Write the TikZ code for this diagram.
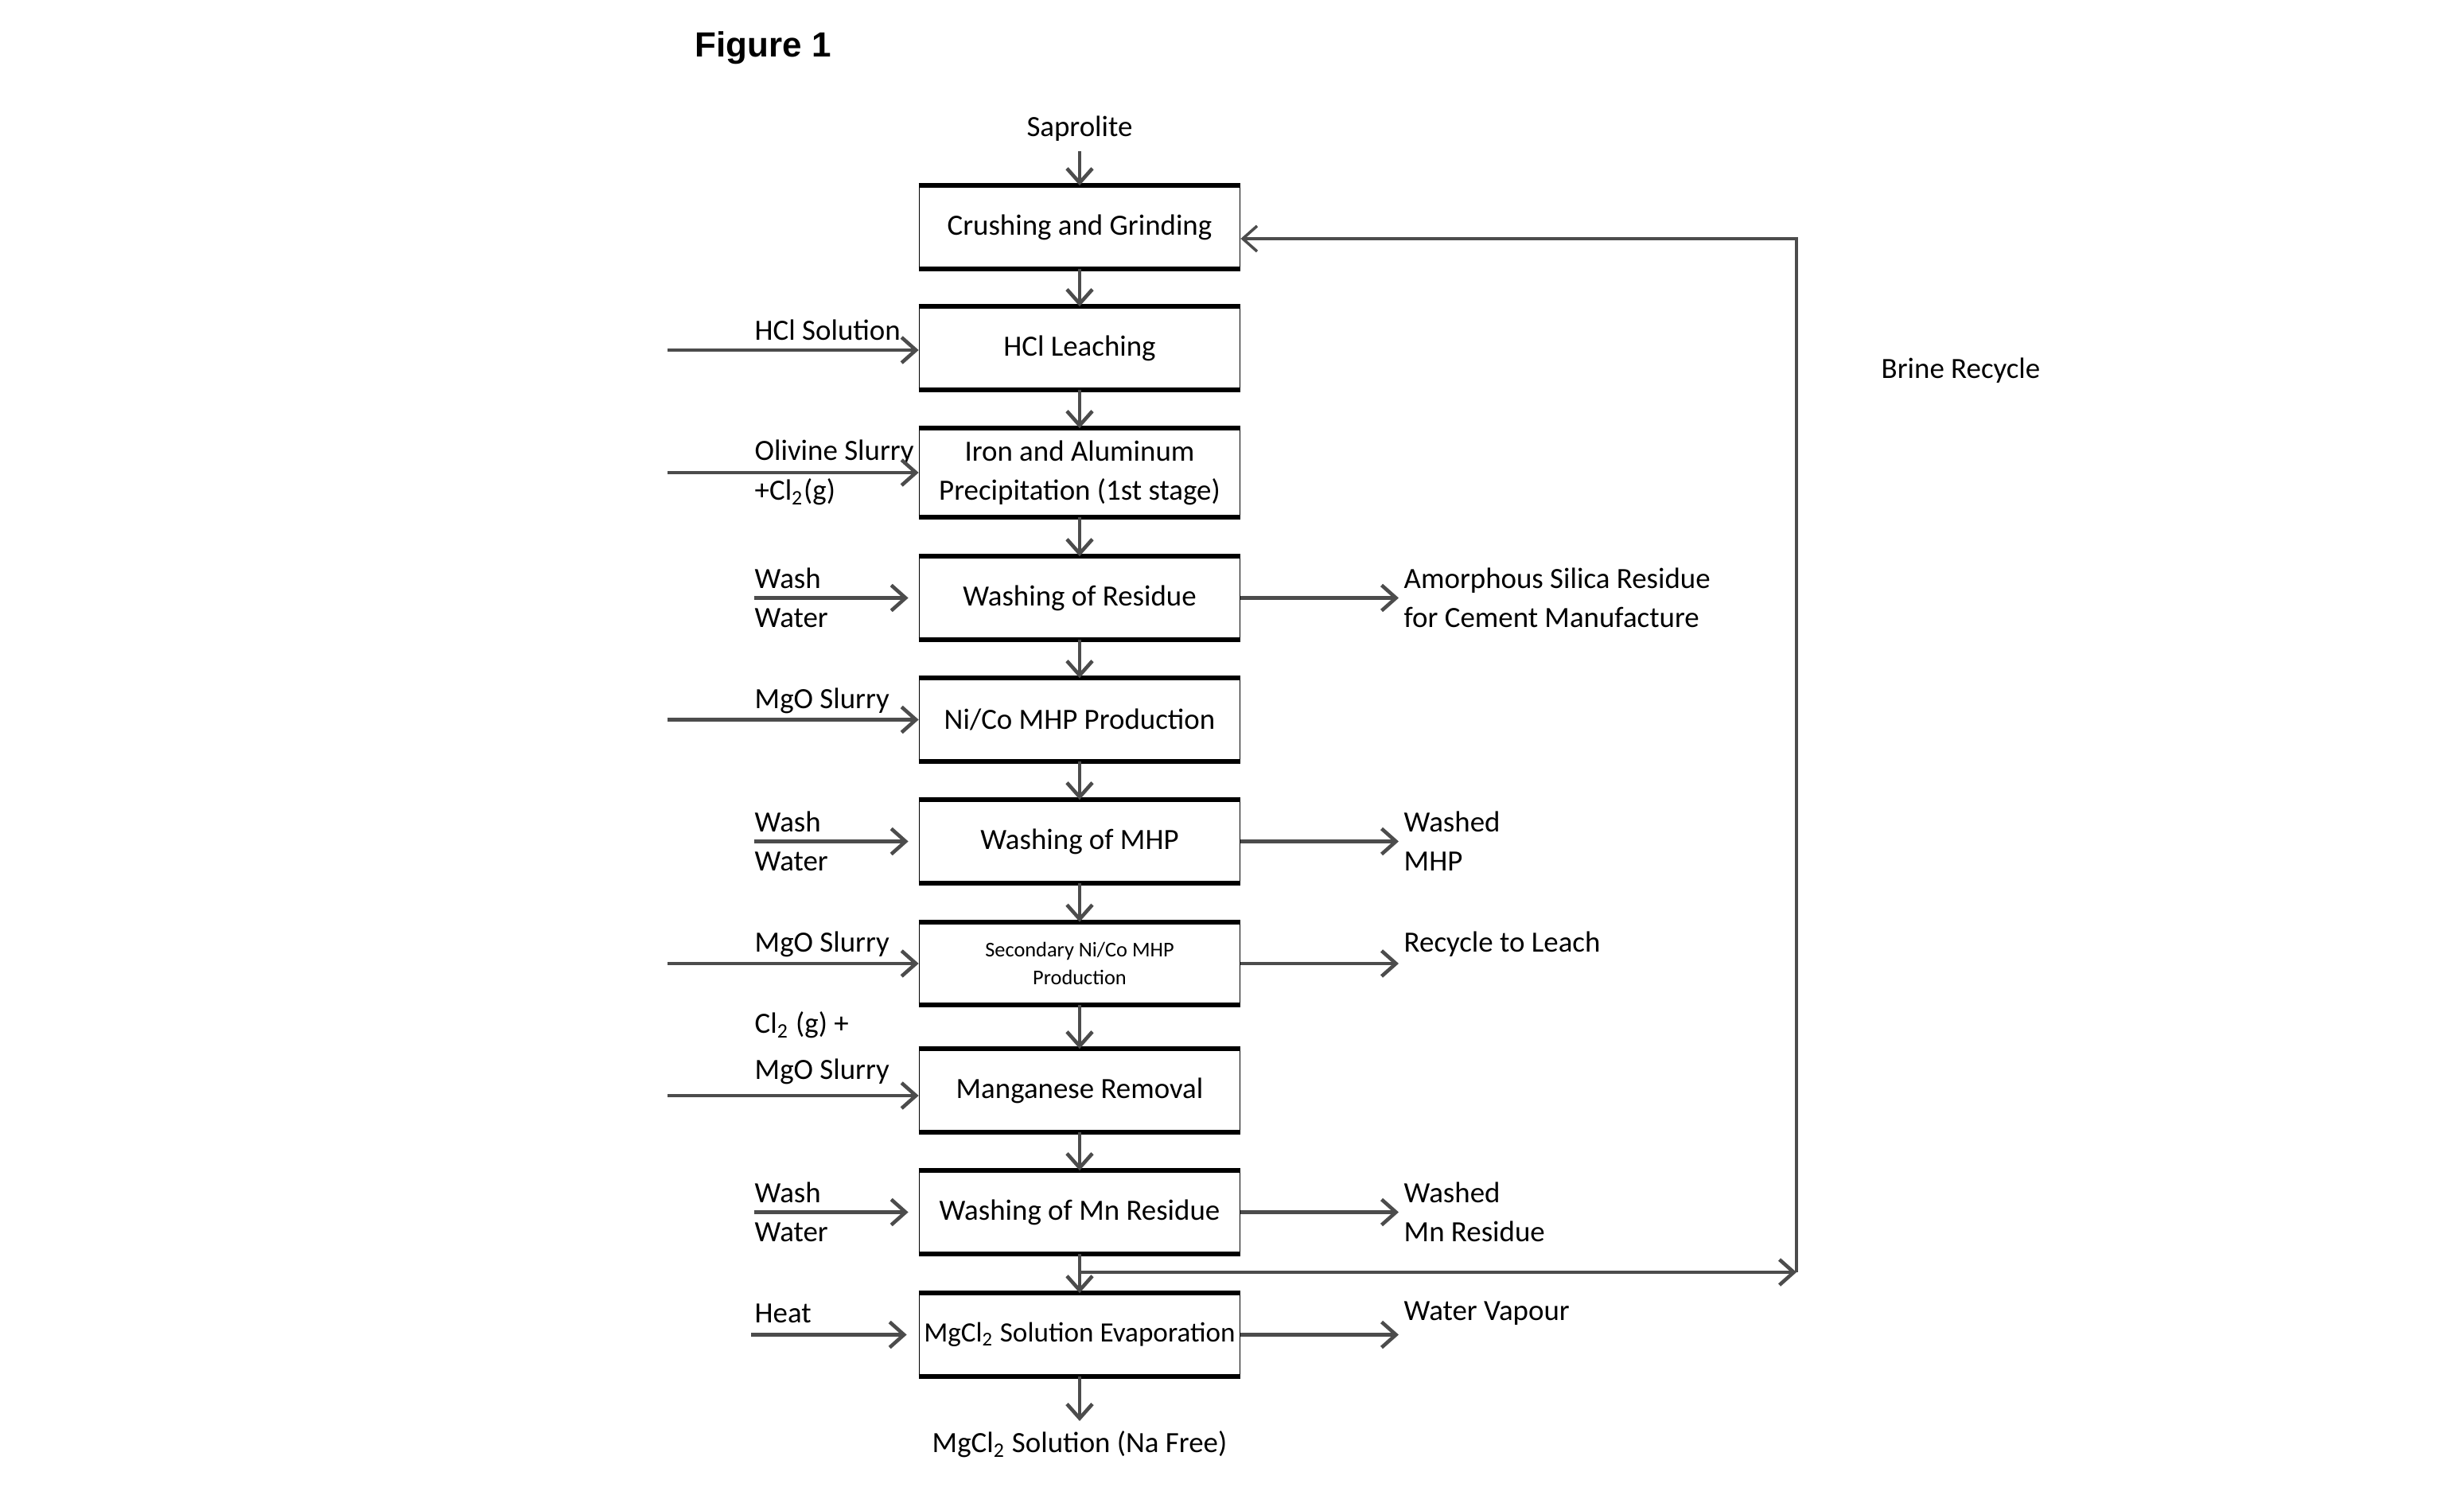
\documentclass[tikz,border=0pt]{standalone}
\usepackage{fontspec}
\setmainfont{Carlito}
\newfontfamily\headfont{Liberation Sans}
\usetikzlibrary{arrows.meta}

\begin{document}
\begin{tikzpicture}[font=\fontsize{10.5}{14}\selectfont]
\tikzset{proc/.style={draw, line width=0.5pt, minimum width=4.03cm, minimum height=1.03cm,
    align=center, inner xsep=1pt,
    append after command={(\tikzlastnode.north west) edge[line width=1.7pt] (\tikzlastnode.north east)
      (\tikzlastnode.south west) edge[line width=1.7pt] (\tikzlastnode.south east)}},
  flow/.style={draw=black!70, line width=1.3pt, -{Straight Barb[length=1.8mm,width=3.2mm]}},
  lbl/.style={anchor=west, align=left, inner sep=0pt}}

\useasboundingbox (0,0) rectangle (30.97,-18.89);

\node[anchor=base west, inner sep=0pt, font=\headfont\bfseries\fontsize{12.5}{15}\selectfont] (fig) at (8.73,-0.72) {Figure 1};

% process column
\node[proc] (crush) at (13.57,-2.855) {Crushing and Grinding};
\node[proc] (leach) at (13.57,-4.375) {HCl Leaching};
\node[proc, minimum height=1.10cm] (feal) at (13.57,-5.94) {Iron and Aluminum\\Precipitation (1st stage)};
\node[proc] (wres) at (13.57,-7.515) {Washing of Residue};
\node[proc] (nico) at (13.57,-9.045) {Ni/Co MHP Production};
\node[proc] (wshmhp) at (13.57,-10.575) {Washing of MHP};
\node[proc, font=\fontsize{7.5}{10}\selectfont] (sec) at (13.57,-12.11) {Secondary Ni/Co MHP\\Production};
\node[proc] (mnrem) at (13.57,-13.705) {Manganese Removal};
\node[proc] (wshmn) at (13.57,-15.235) {Washing of Mn Residue};
\node[proc, inner xsep=0pt, font=\fontsize{10}{14}\selectfont] (evap) at (13.57,-16.775) {MgCl\textsubscript{2} Solution Evaporation};

\foreach \a/\b in {crush/leach, leach/feal, feal/wres, wres/nico, nico/wshmhp,
    wshmhp/sec, sec/mnrem, mnrem/wshmn, wshmn/evap}
  \draw[flow] (\a) -- (\b);

% feed and product
\node (sap) at (13.57,-1.62) {Saprolite};
\draw[flow] (sap) -- (crush);
\node[anchor=north] (naf) at (13.57,-17.86) {MgCl\textsubscript{2} Solution (Na Free)};
\draw[flow] (evap) -- (naf);

% inputs on the left
\node[lbl] (hcl) at (9.48,-4.15) {HCl Solution};
\coordinate (hclin) at (8.39,-4.40);
\draw[flow] (hclin) -- (hclin -| leach.west);

\node[lbl] (oliv) at (9.48,-5.69) {Olivine Slurry};
\node[lbl] (clg) at (9.48,-6.18) {+Cl\textsubscript{2}(g)};
\coordinate (olivin) at (8.39,-5.94);
\draw[flow] (olivin) -- (olivin -| feal.west);

\node[lbl] (ww1) at (9.48,-7.515) {Wash\\Water};
\draw[flow] (ww1.west) -- ([xshift=-1.3mm]wres.west);

\node[lbl] (mgo1) at (9.48,-8.81) {MgO Slurry};
\coordinate (mgoin1) at (8.39,-9.045);
\draw[flow] (mgoin1) -- (mgoin1 -| nico.west);

\node[lbl] (ww2) at (9.48,-10.575) {Wash\\Water};
\draw[flow] (ww2.west) -- ([xshift=-1.3mm]wshmhp.west);

\node[lbl] (mgo2) at (9.48,-11.87) {MgO Slurry};
\coordinate (mgoin2) at (8.39,-12.11);
\draw[flow] (mgoin2) -- (mgoin2 -| sec.west);

\node[lbl] (cl2) at (9.48,-12.88) {Cl\textsubscript{2} (g) +};
\node[lbl] (mgo3) at (9.48,-13.47) {MgO Slurry};
\coordinate (mgoin3) at (8.39,-13.77);
\draw[flow] (mgoin3) -- (mgoin3 -| mnrem.west);

\node[lbl] (ww3) at (9.48,-15.235) {Wash\\Water};
\draw[flow] (ww3.west) -- ([xshift=-1.3mm]wshmn.west);

\node[lbl] (heat) at (9.48,-16.51) {Heat};
\coordinate (heatin) at (9.44,-16.775);
\draw[flow] (heatin) -- ([xshift=-1.5mm]evap.west);

% outputs on the right
\node[lbl] (silica) at (17.64,-7.515) {Amorphous Silica Residue\\for Cement Manufacture};
\draw[flow] (wres.east) -- ([xshift=-0.6mm]silica.west);

\node[lbl] (wmhp) at (17.64,-10.575) {Washed\\MHP};
\draw[flow] (wshmhp.east) -- ([xshift=-0.6mm]wmhp.west);

\node[lbl] (rcl) at (17.64,-11.87) {Recycle to Leach};
\coordinate (rclout) at (17.58,-12.11);
\draw[flow] (sec.east) -- (rclout);

\node[lbl] (wmn) at (17.64,-15.235) {Washed\\Mn Residue};
\draw[flow] (wshmn.east) -- ([xshift=-0.6mm]wmn.west);

\node[lbl] (vap) at (17.64,-16.51) {Water Vapour};
\coordinate (vapout) at (17.58,-16.775);
\draw[flow] (evap.east) -- (vapout);

% brine recycle loop
\coordinate (brj) at (13.57,-15.99);
\coordinate (brc) at (22.58,-15.99);
\draw[flow] (brj) -- (brc);
\draw[flow, line width=1pt] (brc) |- ([yshift=-1.45mm]crush.east);
\node[lbl] (brine) at (23.64,-4.66) {Brine Recycle};

\end{tikzpicture}
\end{document}
